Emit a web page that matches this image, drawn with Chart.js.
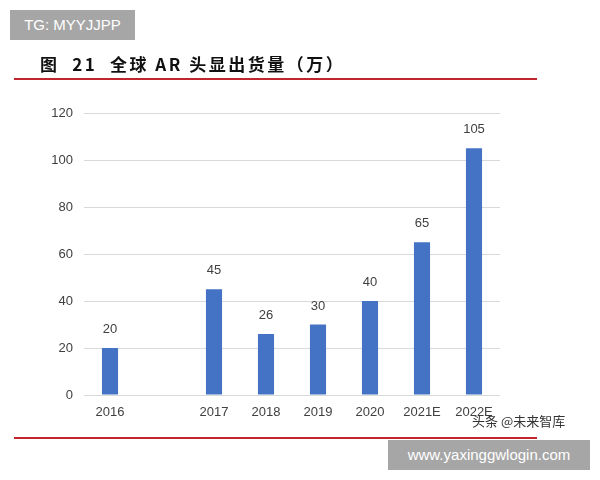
<!DOCTYPE html>
<html><head><meta charset="utf-8">
<script src="https://cdn.jsdelivr.net/npm/chart.js@4/dist/chart.umd.min.js"></script>
<style>
html,body{margin:0;padding:0;background:#fff;}
#wrap{position:relative;width:600px;height:480px;overflow:hidden;}
canvas{position:absolute;left:0;top:0;}
.box{position:absolute;background:#a6a6a6;color:#fff;font-family:"Liberation Sans",Arial,sans-serif;font-size:15px;line-height:30px;}
.title{position:absolute;left:40px;top:51px;font-family:"Noto Sans CJK SC",sans-serif;font-weight:bold;font-size:17px;color:#111;letter-spacing:2.5px;white-space:pre;}
.rl{position:absolute;height:2px;background:#c0262c;}
.wm{position:absolute;left:472px;top:411px;font-family:"Noto Sans CJK SC",sans-serif;font-size:13px;color:#333;}
</style></head>
<body><div id="wrap">
<canvas id="c" width="600" height="480"></canvas>
<div class="box" style="left:10px;top:10px;width:125px;height:30px;text-align:center;">TG: MYYJJPP</div>
<div class="title">图  21  全球 AR 头显出货量（万）</div>
<div class="rl" style="left:14px;top:78px;width:523px;"></div>
<div class="rl" style="left:14px;top:437px;width:523px;"></div>
<div class="wm">头条 @未来智库</div>
<div class="box" style="left:388px;top:440px;width:202px;height:30px;text-align:center;">www.yaxinggwlogin.com</div>
</div>
<script>
const categories = ["2016", "", "2017", "2018", "2019", "2020", "2021E", "2022E"];
const shipments = [20, null, 45, 26, 30, 40, 65, 105];
const yTicks = [0, 20, 40, 60, 80, 100, 120];

const valueLabels = {
  id: 'valueLabels',
  afterDatasetsDraw(chart) {
    const ctx = chart.ctx;
    const meta = chart.getDatasetMeta(0);
    ctx.save();
    ctx.font = '13px "Liberation Sans", Arial, sans-serif';
    ctx.fillStyle = '#404040';
    ctx.textAlign = 'center';
    ctx.textBaseline = 'bottom';
    meta.data.forEach((bar, i) => {
      const v = shipments[i];
      if (v === null || v === undefined) return;
      ctx.fillText(String(v), bar.x, bar.y - 12);
    });
    ctx.restore();
  }
};

new Chart(document.getElementById('c'), {
  type: 'bar',
  data: {
    labels: categories,
    datasets: [{
      data: shipments,
      backgroundColor: '#4472c4',
      barPercentage: 0.62,
      categoryPercentage: 0.5
    }]
  },
  options: {
    responsive: false,
    animation: false,
    layout: { padding: { left: 0, right: 100, top: 113, bottom: 55 } },
    plugins: { legend: { display: false }, tooltip: { enabled: false } },
    scales: {
      x: {
        grid: { display: false },
        border: { display: false },
        ticks: { color: '#404040', font: { size: 13, family: '"Liberation Sans", Arial, sans-serif' }, padding: 2, maxRotation: 0, autoSkip: false },
        afterFit(s) { s.height = 30; }
      },
      y: {
        min: 0, max: 120,
        afterBuildTicks(s) { s.ticks = yTicks.map(v => ({ value: v })); },
        grid: { color: '#d9d9d9', drawTicks: false, lineWidth: 1 },
        border: { display: false },
        ticks: { color: '#404040', font: { size: 13, family: '"Liberation Sans", Arial, sans-serif' }, padding: 11 },
        afterFit(s) { s.width = 84; }
      }
    }
  },
  plugins: [valueLabels]
});
</script>
</body></html>
